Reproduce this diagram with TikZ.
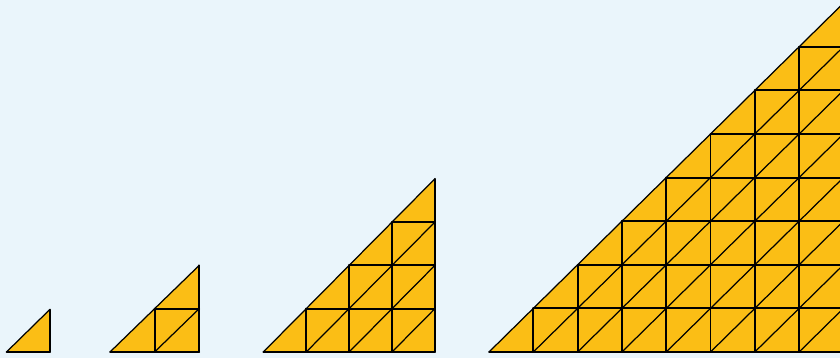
\documentclass[tikz,border=0pt]{standalone}
\definecolor{gold}{RGB}{251,190,21}
\definecolor{sky}{RGB}{234,245,251}
\tikzset{
  cell line/.style={line width=1.1pt, line cap=round},
  diag line/.style={line width=0.7pt}
}
\begin{document}
\begin{tikzpicture}[x=0.02cm,y=0.02cm]
\def\b{6}
  \fill[sky] (0,0) rectangle (840,358);
  \useasboundingbox (0,0) rectangle (840,358);
  \clip (0,0) rectangle (840,358);
  % triangles of 1, 2, 4 and 8 cells: left corner / cells / cell width / cell height
  \foreach \x/\n/\w/\h in {6.5/1/43.3/42.5,110/2/44.6/43.3,263.3/4/42.9/43.3,489/8/44.3/43.6}{
    \fill[gold] (\x,\b) -- ++(\n*\w,0) -- ++(0,\n*\h) -- cycle;
    \pgfmathtruncatemacro\m{\n-1}
    \foreach \k in {0,...,\m}
      \draw[diag line] (\x+\k*\w,\b) -- (\x+\n*\w,\b+\n*\h-\k*\h);
    \foreach \i in {1,...,\n}
      \draw[cell line] (\x+\i*\w,\b) -- ++(0,\i*\h);
    \foreach \j in {0,...,\m}
      \draw[cell line] (\x+\j*\w,\b+\j*\h) -- (\x+\n*\w,\b+\j*\h);
  }
\end{tikzpicture}
\end{document}
